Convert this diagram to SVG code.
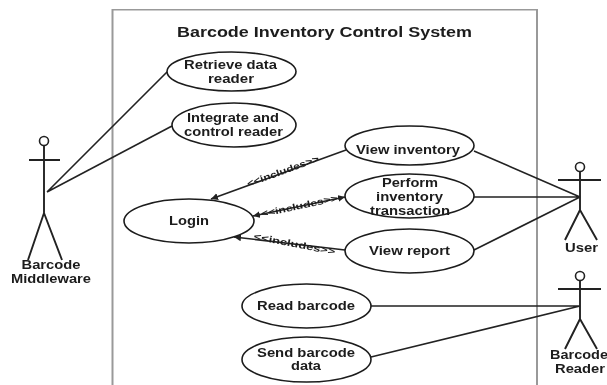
<svg xmlns="http://www.w3.org/2000/svg" width="607" height="385" viewBox="0 0 607 385">
<style>
.u{fill:#fff;stroke:#1c1c1c;stroke-width:1.6}
.c{fill:none;stroke:#222;stroke-width:1.6}
.f{fill:none;stroke:#222;stroke-width:1.9}
text{font-family:"Liberation Sans",Arial,sans-serif;font-weight:bold;fill:#1c1c1c;text-anchor:middle}
.t{font-size:12.300px}
.i{font-size:9px}
</style>
<defs>
<marker id="ah" markerUnits="userSpaceOnUse" markerWidth="9" markerHeight="8" refX="7" refY="3.500" orient="auto-start-reverse"><path d="M0 0L7 3.500L0 7Z" fill="#222"/></marker>
<filter id="soft" x="0" y="0" width="100%" height="100%"><feGaussianBlur stdDeviation="0.4"/></filter>
</defs>
<rect width="607" height="385" fill="#fff"/>
<g filter="url(#soft)">
<path id="boundary" d="M112.500 385V9.500H537V385" fill="none" stroke="#999" stroke-width="2"/>
<text x="324.500" y="37" style="font-size:14.500px" textLength="295" lengthAdjust="spacingAndGlyphs">Barcode Inventory Control System</text>
<g id="connectors">
<path class="c" d="M47 192L167 72M47 192L172 126M474 151L580 197M474 197H580M474 250L580 197M371 306H580M371 357L580 306"/>
<path class="c" marker-start="url(#ah)" d="M211 199L346 150"/>
<path class="c" marker-start="url(#ah)" marker-end="url(#ah)" d="M253 216L345 197"/>
<path class="c" marker-start="url(#ah)" d="M234 237L345 250"/>
</g>
<g id="retrieve"><ellipse class="u" cx="231.500" cy="71.500" rx="64.500" ry="19.500"/><text class="t" x="230.500" y="69" textLength="93" lengthAdjust="spacingAndGlyphs">Retrieve data</text><text class="t" x="231" y="83" textLength="46" lengthAdjust="spacingAndGlyphs">reader</text></g>
<g id="integrate"><ellipse class="u" cx="234" cy="125" rx="62" ry="22"/><text class="t" x="233" y="122" textLength="92" lengthAdjust="spacingAndGlyphs">Integrate and</text><text class="t" x="233.500" y="136" textLength="99" lengthAdjust="spacingAndGlyphs">control reader</text></g>
<g id="view-inventory"><ellipse class="u" cx="409.500" cy="145.500" rx="64.500" ry="19.500"/><text class="t" x="408" y="154" textLength="104" lengthAdjust="spacingAndGlyphs">View inventory</text></g>
<g id="perform"><ellipse class="u" cx="409.500" cy="196" rx="64.500" ry="22"/><text class="t" x="410" y="187" textLength="56" lengthAdjust="spacingAndGlyphs">Perform</text><text class="t" x="409.500" y="201" textLength="67" lengthAdjust="spacingAndGlyphs">inventory</text><text class="t" x="410" y="215" textLength="80" lengthAdjust="spacingAndGlyphs">transaction</text></g>
<g id="view-report"><ellipse class="u" cx="409.500" cy="251" rx="64.500" ry="22"/><text class="t" x="409.500" y="255" textLength="81" lengthAdjust="spacingAndGlyphs">View report</text></g>
<g id="login"><ellipse class="u" cx="189" cy="221" rx="65" ry="22"/><text class="t" x="189" y="225" textLength="40" lengthAdjust="spacingAndGlyphs">Login</text></g>
<g id="read"><ellipse class="u" cx="306.500" cy="306" rx="64.500" ry="22"/><text class="t" x="306" y="310" textLength="98" lengthAdjust="spacingAndGlyphs">Read barcode</text></g>
<g id="send"><ellipse class="u" cx="306.500" cy="359.500" rx="64.500" ry="22.500"/><text class="t" x="306" y="357" textLength="98" lengthAdjust="spacingAndGlyphs">Send barcode</text><text class="t" x="306" y="370" textLength="30" lengthAdjust="spacingAndGlyphs">data</text></g>
<g id="labels">
<text class="i" transform="translate(284 174) rotate(-20)" textLength="76" lengthAdjust="spacingAndGlyphs">&lt;&lt;includes&gt;&gt;</text>
<text class="i" transform="translate(300 209) rotate(-12)" textLength="78" lengthAdjust="spacingAndGlyphs">&lt;&lt;includes&gt;&gt;</text>
<text class="i" transform="translate(294 247) rotate(11)" textLength="83" lengthAdjust="spacingAndGlyphs">&lt;&lt;includes&gt;&gt;</text>
</g>
<g id="middleware"><circle class="c" cx="44" cy="141" r="4.500"/><path class="f" d="M44 146V213M29 160H60M44 213L28 260M44 213L62 260"/><text class="t" x="51" y="269" textLength="59" lengthAdjust="spacingAndGlyphs">Barcode</text><text class="t" x="51" y="283" textLength="80" lengthAdjust="spacingAndGlyphs">Middleware</text></g>
<g id="user"><circle class="c" cx="580" cy="167" r="4.500"/><path class="f" d="M580 172V210M558 180H601M580 210L565 240M580 210L597 240"/><text class="t" x="581.500" y="252" textLength="33" lengthAdjust="spacingAndGlyphs">User</text></g>
<g id="reader"><circle class="c" cx="580" cy="276" r="4.500"/><path class="f" d="M580 281V319M558 289H601M580 319L565 349M580 319L597 349"/><text class="t" x="579" y="359" textLength="58" lengthAdjust="spacingAndGlyphs">Barcode</text><text class="t" x="580" y="373" textLength="50" lengthAdjust="spacingAndGlyphs">Reader</text></g>
</g>
</svg>
